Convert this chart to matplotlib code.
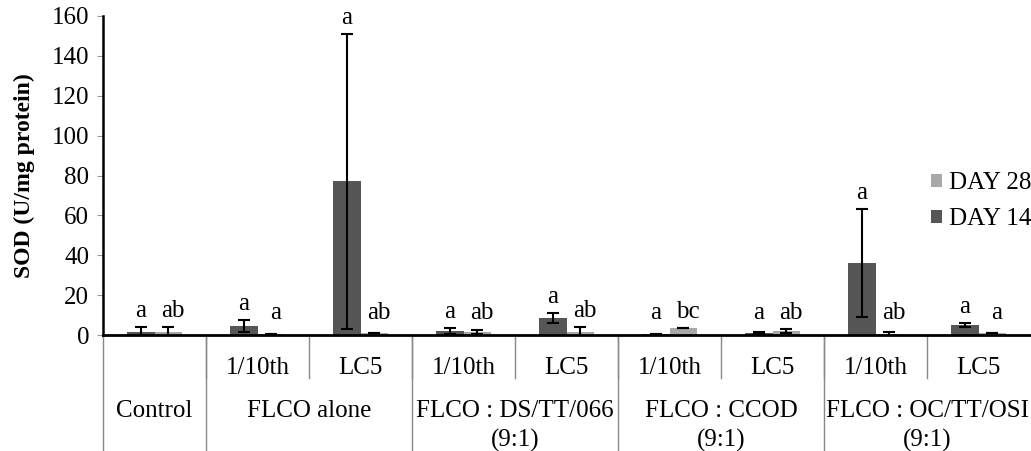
import matplotlib.pyplot as plt
import numpy as np

# values (U/mg protein)
doses = ["", "1/10th", "LC5", "1/10th", "LC5", "1/10th", "LC5", "1/10th", "LC5"]
groups = ["Control", "FLCO alone", "FLCO : DS/TT/066\n(9:1)", "FLCO : CCOD\n(9:1)", "FLCO : OC/TT/OSI\n(9:1)"]
group_sizes = [1, 2, 2, 2, 2]

day14 = [1.5, 4.5, 77, 2.0, 8.5, 0.5, 1.0, 36, 5.0]
day14_err = [2.5, 3.0, 74, 1.5, 2.5, 0.0, 0.6, 27, 1.0]
day28 = [1.5, 0.5, 1.0, 1.5, 1.5, 3.5, 2.0, 0.5, 1.0]
day28_err = [2.5, 0.0, 0.0, 0.8, 2.5, 0.0, 1.0, 0.8, 0.0]
day14_letters = ["a", "a", "a", "a", "a", "a", "a", "a", "a"]
day28_letters = ["ab", "a", "ab", "ab", "ab", "bc", "ab", "ab", "a"]

plt.rcParams['font.family'] = ['Liberation Serif', 'DejaVu Serif']
FS = 18

fig = plt.figure(figsize=(10.31, 4.51), dpi=100)
ax = fig.add_axes([103 / 1031, 1 - 335 / 451, 927 / 1031, 319 / 451])

x = np.arange(len(doses))
w = 0.27
ekw = dict(ecolor='black', capsize=4, elinewidth=1.5, capthick=1.5)
b14 = ax.bar(x - w / 2, day14, w, yerr=day14_err, color='#565656', label='DAY 14', error_kw=ekw, zorder=2)
b28 = ax.bar(x + w / 2, day28, w, yerr=day28_err, color='#a8a8a8', label='DAY 28', error_kw=ekw, zorder=2)

# significance letters above each bar
for i in range(len(doses)):
    top14 = max(day14[i] + day14_err[i], 3)
    top28 = max(day28[i] + day28_err[i], 3)
    ax.text(x[i] - w / 2, top14 + 8, day14_letters[i], ha='center', va='center', fontsize=FS)
    ax.text(x[i] + w / 2 + 0.04, top28 + 8, day28_letters[i], ha='center', va='center', fontsize=FS)

ax.set_xlim(-0.5, len(doses) - 0.5)
ax.set_ylim(0, 160)
ax.set_yticks(range(0, 161, 20))
ax.tick_params(axis='y', labelsize=FS, length=4, color='#999999', direction='out', pad=6)
ax.set_xticks([])
ax.set_ylabel('SOD (U/mg protein)', fontsize=17, fontweight='bold')
ax.yaxis.set_label_coords(-(103 - 35) / 927, 0.5)
for s in ['top', 'right']:
    ax.spines[s].set_visible(False)
ax.spines['left'].set_linewidth(1.8)
ax.spines['bottom'].set_linewidth(2)

# category table under the axis
tr = ax.get_xaxis_transform()
for i, d in enumerate(doses):
    if d:
        ax.text(x[i], -0.105, d, transform=tr, ha='center', va='center', fontsize=FS)
for i in range(1, len(doses)):
    ax.plot([i - 0.5, i - 0.5], [0, -0.135], transform=tr, color='#888888', lw=1, clip_on=False)
edges = np.concatenate([[0], np.cumsum(group_sizes)]) - 0.5
for e in edges[:-1]:
    ax.plot([e, e], [0, -0.37], transform=tr, color='#888888', lw=1, clip_on=False)
for g, a, b in zip(groups, edges[:-1], edges[1:]):
    ax.text((a + b) / 2, -0.203, g, transform=tr, ha='center', va='top', fontsize=FS, linespacing=1.4)

handles = [b28, b14]
fig.legend(handles, [h.get_label() for h in handles], loc='upper left', bbox_to_anchor=(908 / 1031, 1 - 150 / 451),
           frameon=False, fontsize=FS, handlelength=0.45, handleheight=0.45, handletextpad=0.3, labelspacing=0.55)

fig.savefig('out.png', dpi=100)
